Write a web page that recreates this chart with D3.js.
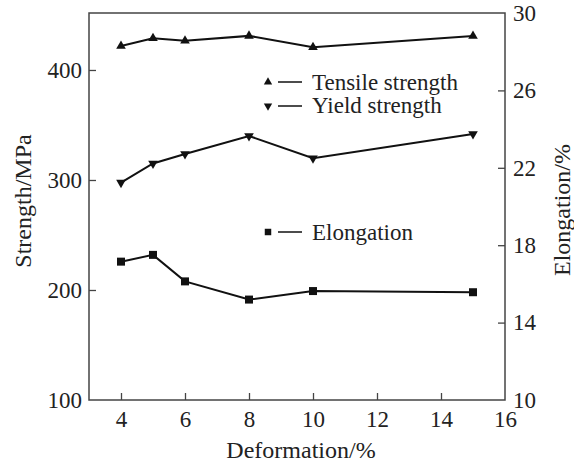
<!DOCTYPE html>
<html>
<head>
<meta charset="utf-8">
<script src="https://cdn.jsdelivr.net/npm/d3@7"></script>
<style>
  body { margin: 0; background: #fff; }
  text { font-family: "Liberation Serif", "Times New Roman", serif; fill: #222; }
</style>
</head>
<body>
<div id="chart"></div>
<script>
const width = 574;
const height = 464;

const deformation = [4, 5, 6, 8, 10, 15];
const tensile = [421.8, 428.8, 426.6, 431, 420.6, 430.9];
const yieldStrength = [297.6, 315, 323.6, 340, 319.7, 341.8];
const elongation = [17.15, 17.5, 16.13, 15.19, 15.63, 15.57];

const xTicks = [4, 6, 8, 10, 12, 14, 16];
const leftTicks = [100, 200, 300, 400];
const rightTicks = [10, 14, 18, 22, 26, 30];

const margin = { top: 13, right: 69, bottom: 64, left: 89 };

const svg = d3.select("#chart")
  .append("svg")
  .attr("width", width)
  .attr("height", height);

const x = d3.scaleLinear().domain([3, 16]).range([margin.left, width - margin.right]);
const yL = d3.scaleLinear().domain([100, 451.8]).range([height - margin.bottom, margin.top]);
const yR = d3.scaleLinear().domain([10, 30]).range([height - margin.bottom, margin.top]);

const axisColor = "#444";

// frame
svg.append("rect")
  .attr("x", margin.left)
  .attr("y", margin.top)
  .attr("width", width - margin.left - margin.right)
  .attr("height", height - margin.top - margin.bottom)
  .attr("fill", "none")
  .attr("stroke", axisColor)
  .attr("stroke-width", 1.5);

function styleAxis(g) {
  g.select(".domain").remove();
  g.selectAll(".tick line").attr("stroke", axisColor).attr("stroke-width", 1.3);
  g.selectAll(".tick text")
    .style("font-size", "23px")
    .attr("fill", "#222");
}

svg.append("g")
  .attr("transform", `translate(0,${height - margin.bottom})`)
  .call(d3.axisBottom(x).tickValues(xTicks).tickSize(-7).tickPadding(11))
  .call(styleAxis)
  .call(g => g.selectAll(".tick").filter(d => d === 16).select("line").remove());

svg.append("g")
  .attr("transform", `translate(${margin.left},0)`)
  .call(d3.axisLeft(yL).tickValues(leftTicks).tickSize(-7).tickPadding(7))
  .call(styleAxis)
  .call(g => g.selectAll(".tick").filter(d => d === 100).select("line").remove());

svg.append("g")
  .attr("transform", `translate(${width - margin.right},0)`)
  .call(d3.axisRight(yR).tickValues(rightTicks).tickSize(-7).tickPadding(8))
  .call(styleAxis)
  .call(g => g.selectAll(".tick").filter(d => d === 10 || d === 30).select("line").remove());

// axis titles
svg.append("text")
  .attr("x", 301)
  .attr("y", 458)
  .attr("text-anchor", "middle")
  .style("font-size", "24px")
  .text("Deformation/%");

svg.append("text")
  .attr("transform", "translate(31,201) rotate(-90)")
  .attr("text-anchor", "middle")
  .style("font-size", "24px")
  .text("Strength/MPa");

svg.append("text")
  .attr("transform", "translate(570,210) rotate(-90)")
  .attr("text-anchor", "middle")
  .style("font-size", "24px")
  .text("Elongation/%");

const triUp = d3.symbol().type(d3.symbolTriangle).size(40);
const triDown = d3.symbol().type(d3.symbolTriangle).size(40);
const square = d3.symbol().type(d3.symbolSquare).size(64);

const series = [
  { name: "Tensile strength", values: tensile, y: yL, symbol: triUp, rot: 0 },
  { name: "Yield strength", values: yieldStrength, y: yL, symbol: triDown, rot: 180 },
  { name: "Elongation", values: elongation, y: yR, symbol: square, rot: 0 }
];

series.forEach(s => {
  const pts = deformation.map((d, i) => [d, s.values[i]]);
  svg.append("path")
    .datum(pts)
    .attr("fill", "none")
    .attr("stroke", "#111")
    .attr("stroke-width", 2)
    .attr("d", d3.line().x(d => x(d[0])).y(d => s.y(d[1])));
  svg.append("g")
    .selectAll("path")
    .data(pts)
    .join("path")
    .attr("transform", d => `translate(${x(d[0])},${s.y(d[1])}) rotate(${s.rot})`)
    .attr("d", s.symbol())
    .attr("fill", "#111");
});

// legend
const legendRows = [
  { label: "Tensile strength", y: 82, base: 90, symbol: triUp, rot: 0 },
  { label: "Yield strength", y: 106, base: 113, symbol: triDown, rot: 180 },
  { label: "Elongation", y: 232, base: 240, symbol: square, rot: 0 }
];

const legend = svg.append("g");
legendRows.forEach(r => {
  legend.append("path")
    .attr("transform", `translate(268,${r.y}) rotate(${r.rot})`)
    .attr("d", r.symbol.size(r.symbol === square ? 42 : 30)())
    .attr("fill", "#111");
  legend.append("line")
    .attr("x1", 278).attr("x2", 302)
    .attr("y1", r.y).attr("y2", r.y)
    .attr("stroke", "#111")
    .attr("stroke-width", 1.5);
  legend.append("text")
    .attr("x", 312)
    .attr("y", r.base)
    .style("font-size", "23px")
    .text(r.label);
});
</script>
</body>
</html>
